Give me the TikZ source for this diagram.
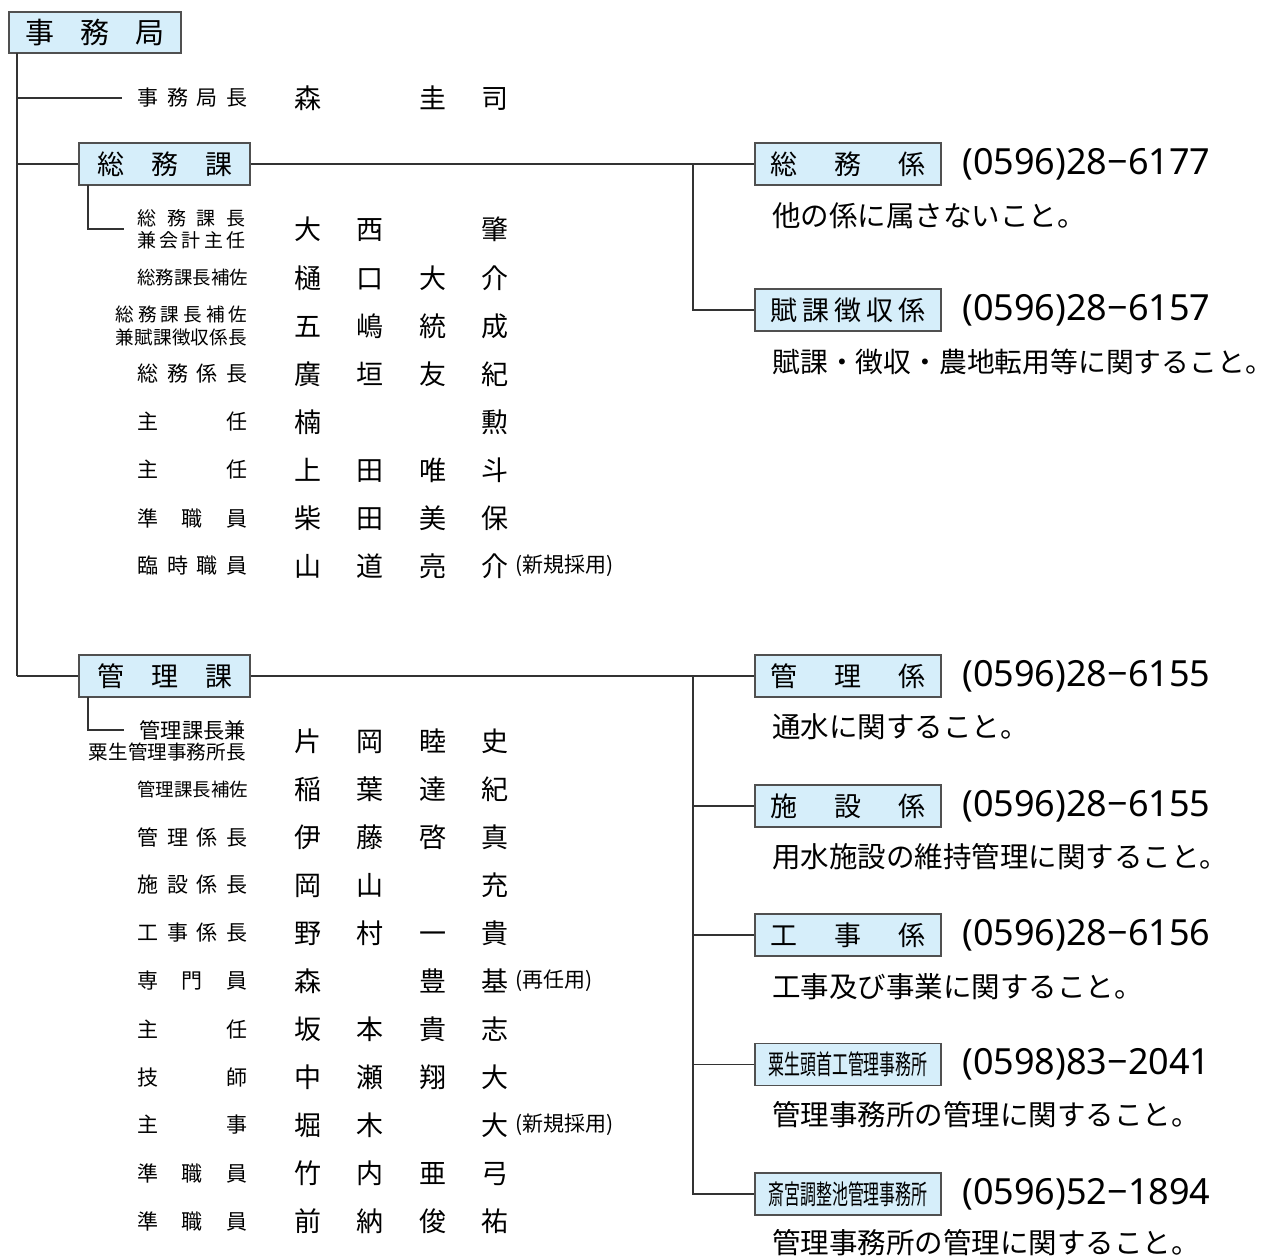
\documentclass[tikz,border=0pt]{standalone}
\usepackage{fontspec}
\usepackage{graphicx}
\setmainfont{Noto Sans CJK JP}
\newfontfamily\phonefont{Noto Sans}
\definecolor{boxfill}{RGB}{214,238,250}
\definecolor{boxline}{RGB}{80,80,80}
\definecolor{conn}{RGB}{51,51,51}
\newcommand\fs[1]{\fontsize{#1}{#1}\selectfont}
\tikzset{
  boxbase/.style={draw=boxline, fill=boxfill, line width=0.7pt, inner sep=0pt, anchor=center},
  topbox/.style={boxbase, minimum width=86pt, minimum height=20.5pt, font=\fs{14.5pt}},
  kabox/.style={boxbase, minimum width=85.5pt, minimum height=21pt, font=\fs{13.5pt}},
  kakaribox/.style={boxbase, minimum width=93pt, minimum height=21pt, font=\fs{13.5pt}},
  conn/.style={draw=conn, line width=0.65pt},
  lbl/.style={anchor=west, inner sep=0pt, font=\fs{10.5pt}},
  nm/.style={anchor=west, inner sep=0pt, font=\fs{13.5pt}},
  note/.style={anchor=west, inner sep=0pt, font=\fs{10.5pt}},
  desc/.style={anchor=west, inner sep=0pt, font=\fs{14.25pt}},
  phone/.style={anchor=west, inner sep=0pt, font=\phonefont\fs{18pt}},
}
\newcommand\lbl[3]{\node[lbl] (#1) at (137,#2) {\makebox[55pt][s]{#3}};}
\newcommand\nm[3]{\node[nm] (#1) at (294,#2) {\makebox[107pt][s]{#3}};}
\begin{document}
\begin{tikzpicture}[x=0.5pt,y=-0.5pt]
\useasboundingbox (0,0) rectangle (1272,1258);

% ---- top box and trunk
\node[topbox] (jimu) at (95,32.5) {\makebox[69.5pt][s]{事\hfil 務\hfil 局}};
\coordinate (tTop) at (17,53);
\coordinate (t98) at (17,98);
\coordinate (tBottom) at (17,676);
\draw[conn] (tTop) -- (tBottom);

% ---- 事務局長
\coordinate (e98) at (122,98);
\draw[conn] (t98) -- (e98);
\lbl{L0}{98}{事\hfil 務\hfil 局\hfil 長}
\nm{N0}{98}{森\hfil\phantom{西}\hfil 圭\hfil 司}

% ---- 総務課
\node[kabox] (soumuka) at (164.5,164) {\makebox[67.5pt][s]{総\hfil 務\hfil 課}};
\coordinate (t164) at (17,164);
\draw[conn] (t164) -- (soumuka.west);
\node[kakaribox] (soumugakari) at (848,164) {\makebox[78pt][s]{総\hfil 務\hfil 係}};
\node[kakaribox] (fuka) at (848,310) {\makebox[78pt][s]{賦\hfil 課\hfil 徴\hfil 収\hfil 係}};
\coordinate (b1) at (693,164);
\coordinate (b1f) at (693,310);
\draw[conn] (soumuka.east) -- (soumugakari.west);
\draw[conn] (b1) -- (b1f) -- (fuka.west);
\node[phone] (p1) at (962,164) {(0596)28−6177};
\node[phone] (p2) at (962,310) {(0596)28−6157};
\node[desc] (d1) at (772,216) {他の係に属さないこと。};
\node[desc, font=\fs{13.9pt}] (d2) at (772,362) {賦課・徴収・農地転用等に関すること。};

\coordinate (s1a) at (88,185);
\coordinate (s1b) at (88,229);
\coordinate (s1c) at (124,229);
\draw[conn] (s1a) -- (s1b) -- (s1c);

\node[lbl, font=\fs{9.5pt}] (L1a) at (137,218) {\makebox[54pt][s]{総\hfil 務\hfil 課\hfil 長}};
\node[lbl, font=\fs{9.5pt}] (L1b) at (137,240) {\makebox[54pt][s]{兼\hfil 会\hfil 計\hfil 主\hfil 任}};
\nm{N1}{229}{大\hfil 西\hfil\phantom{西}\hfil 肇}
\node[lbl, font=\fs{9.2pt}] (L2) at (137,278) {総務課長補佐};
\nm{N2}{278}{樋\hfil 口\hfil 大\hfil 介}
\node[lbl, font=\fs{9.3pt}] (L3a) at (115,314) {\makebox[66pt][s]{総\hfil 務\hfil 課\hfil 長\hfil 補\hfil 佐}};
\node[lbl, font=\fs{9.3pt}] (L3b) at (115,337) {\makebox[66pt][s]{兼\hfil 賦\hfil 課\hfil 徴\hfil 収\hfil 係\hfil 長}};
\nm{N3}{326}{五\hfil 嶋\hfil 統\hfil 成}
\lbl{L4}{374}{総\hfil 務\hfil 係\hfil 長}
\nm{N4}{374}{廣\hfil 垣\hfil 友\hfil 紀}
\lbl{L5}{422}{主\hfil 任}
\nm{N5}{422}{楠\hfil\phantom{西}\hfil\phantom{西}\hfil 勲}
\lbl{L6}{470}{主\hfil 任}
\nm{N6}{470}{上\hfil 田\hfil 唯\hfil 斗}
\lbl{L7}{518}{準\hfil 職\hfil 員}
\nm{N7}{518}{柴\hfil 田\hfil 美\hfil 保}
\lbl{L8}{566}{臨\hfil 時\hfil 職\hfil 員}
\nm{N8}{566}{山\hfil 道\hfil 亮\hfil 介}
\node[note] (X8) at (515,566) {(新規採用)};

% ---- 管理課
\node[kabox] (kanrika) at (164.5,676) {\makebox[67.5pt][s]{管\hfil 理\hfil 課}};
\draw[conn] (tBottom) -- (kanrika.west);
\node[kakaribox] (kanrigakari) at (848,676) {\makebox[78pt][s]{管\hfil 理\hfil 係}};
\node[kakaribox] (shisetsu) at (848,806) {\makebox[78pt][s]{施\hfil 設\hfil 係}};
\node[kakaribox] (kouji) at (848,935) {\makebox[78pt][s]{工\hfil 事\hfil 係}};
\node[kakaribox] (ao) at (848,1064.5) {\scalebox{0.59}[1]{粟生頭首工管理事務所}};
\node[kakaribox] (saigu) at (848,1194) {\scalebox{0.59}[1]{斎宮調整池管理事務所}};
\coordinate (b2) at (693,676);
\coordinate (b2s) at (693,806);
\coordinate (b2k) at (693,935);
\coordinate (b2a) at (693,1064.5);
\coordinate (b2e) at (693,1194);
\draw[conn] (kanrika.east) -- (kanrigakari.west);
\draw[conn] (b2) -- (b2e) -- (saigu.west);
\draw[conn] (b2s) -- (shisetsu.west);
\draw[conn] (b2k) -- (kouji.west);
\draw[conn] (b2a) -- (ao.west);
\node[phone] (p3) at (962,676) {(0596)28−6155};
\node[phone] (p4) at (962,806) {(0596)28−6155};
\node[phone] (p5) at (962,935) {(0596)28−6156};
\node[phone] (p6) at (962,1064.5) {(0598)83−2041};
\node[phone] (p7) at (962,1194) {(0596)52−1894};
\node[desc] (d3) at (772,727) {通水に関すること。};
\node[desc] (d4) at (772,857) {用水施設の維持管理に関すること。};
\node[desc] (d5) at (772,987) {工事及び事業に関すること。};
\node[desc] (d6) at (772,1115) {管理事務所の管理に関すること。};
\node[desc] (d7) at (772,1243) {管理事務所の管理に関すること。};

\coordinate (s2a) at (88,697);
\coordinate (s2b) at (88,730);
\coordinate (s2c) at (124,730);
\draw[conn] (s2a) -- (s2b) -- (s2c);

\node[lbl, anchor=east, font=\fs{10.6pt}] (M1a) at (246,730) {管理課長兼};
\node[lbl, anchor=east, font=\fs{9.8pt}] (M1b) at (246,752) {粟生管理事務所長};
\nm{K1}{741}{片\hfil 岡\hfil 睦\hfil 史}
\node[lbl, font=\fs{9.2pt}] (M2) at (137,789) {管理課長補佐};
\nm{K2}{789}{稲\hfil 葉\hfil 達\hfil 紀}
\lbl{M3}{837}{管\hfil 理\hfil 係\hfil 長}
\nm{K3}{837}{伊\hfil 藤\hfil 啓\hfil 真}
\lbl{M4}{885}{施\hfil 設\hfil 係\hfil 長}
\nm{K4}{885}{岡\hfil 山\hfil\phantom{西}\hfil 充}
\lbl{M5}{933}{工\hfil 事\hfil 係\hfil 長}
\nm{K5}{933}{野\hfil 村\hfil 一\hfil 貴}
\lbl{M6}{981}{専\hfil 門\hfil 員}
\nm{K6}{981}{森\hfil\phantom{西}\hfil 豊\hfil 基}
\node[note] (Y6) at (515,981) {(再任用)};
\lbl{M7}{1029}{主\hfil 任}
\nm{K7}{1029}{坂\hfil 本\hfil 貴\hfil 志}
\lbl{M8}{1077}{技\hfil 師}
\nm{K8}{1077}{中\hfil 瀬\hfil 翔\hfil 大}
\lbl{M9}{1125}{主\hfil 事}
\nm{K9}{1125}{堀\hfil 木\hfil\phantom{西}\hfil 大}
\node[note] (Y9) at (515,1125) {(新規採用)};
\lbl{M10}{1173}{準\hfil 職\hfil 員}
\nm{K10}{1173}{竹\hfil 内\hfil 亜\hfil 弓}
\lbl{M11}{1221}{準\hfil 職\hfil 員}
\nm{K11}{1221}{前\hfil 納\hfil 俊\hfil 祐}
\end{tikzpicture}
\end{document}
